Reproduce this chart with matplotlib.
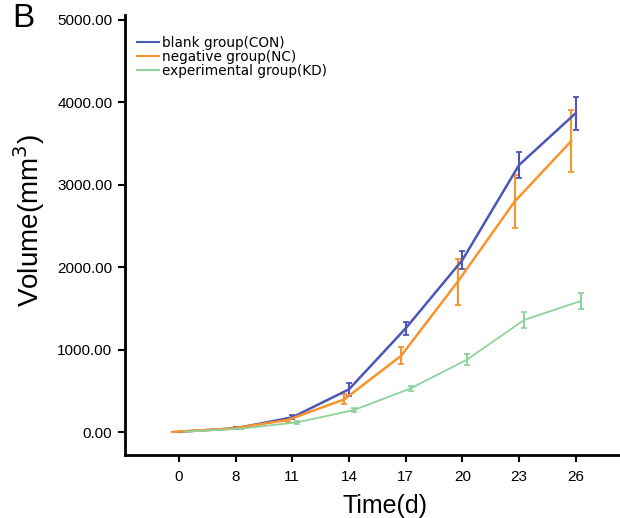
import numpy as np
import matplotlib
matplotlib.use("Agg")
import matplotlib.pyplot as plt
from matplotlib.lines import Line2D

plt.rcParams['font.family'] = ['Liberation Sans', 'DejaVu Sans']

days = ["0", "8", "11", "14", "17", "20", "23", "26"]

con = [3, 45, 178, 518, 1258, 2087, 3240, 3870]
con_err = [0, 10, 25, 80, 75, 110, 160, 200]

nc = [3, 40, 146, 397, 925, 1825, 2795, 3530]
nc_err = [0, 8, 20, 60, 105, 280, 320, 380]

kd = [3, 40, 118, 267, 530, 882, 1360, 1590]
kd_err = [0, 6, 15, 20, 30, 70, 95, 95]

labels = ["blank group(CON)", "negative group(NC)", "experimental group(KD)"]
colors = ["#4b57b8", "#f7942c", "#8fd39c"]
offsets = [0.0, -0.08, 0.09]


def main():
    fig = plt.figure(figsize=(6.2, 5.18), dpi=100)
    ax = fig.add_axes([0.2016, 0.1216, 0.7984, 0.8494])

    x = np.arange(len(days))
    series = [(con, con_err), (nc, nc_err), (kd, kd_err)]
    widths = [1.8, 1.8, 1.3]
    for (y, err), lab, c, off, lw in zip(series, labels, colors, offsets, widths):
        ax.errorbar(x + off, y, yerr=err, color=c, lw=lw, elinewidth=1.5,
                    capsize=2, capthick=1.3, label=lab)

    ax.set_xlim(-0.95, 7.78)
    ax.set_ylim(-279, 5060)
    ax.set_xticks(x)
    ax.set_xticklabels(days)
    yt = [0, 1000, 2000, 3000, 4000, 5000]
    ax.set_yticks(yt)
    ax.set_yticklabels(["%.2f" % v for v in yt])
    ax.tick_params(axis='both', labelsize=11, length=5, width=1.5,
                   direction='out', pad=4)
    ax.tick_params(axis='x', pad=6)

    for s in ["top", "right"]:
        ax.spines[s].set_visible(False)
    for s in ["left", "bottom"]:
        ax.spines[s].set_linewidth(2)

    ax.set_xlabel("Time(d)", fontsize=18, va='baseline')
    ax.xaxis.set_label_coords(0.525, -0.132)
    ax.set_ylabel("Volume(mm$^{3}$)", fontsize=20, va='center')
    ax.yaxis.set_label_coords(-0.194, 0.532)

    h2 = [Line2D([], [], color=c, lw=1.5) for c in colors]
    ax.legend(h2, labels, loc="upper left", bbox_to_anchor=(0.024, 0.953),
              frameon=False, prop={'family': 'DejaVu Sans', 'size': 9.8},
              handlelength=1.6, handletextpad=0.23,
              labelspacing=0.0, borderaxespad=0, borderpad=0)

    fig.text(0.02, 1 - 27 / 518, "B", fontsize=24, va="baseline", ha="left")

    fig.savefig("out.png", dpi=100)


if __name__ == '__main__':
    main()
